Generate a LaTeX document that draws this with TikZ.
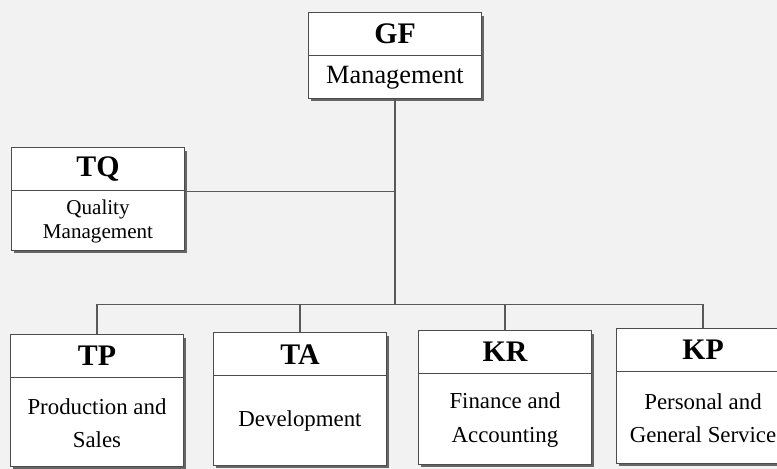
\documentclass[tikz,border=0pt]{standalone}
\usepackage{fontspec}
\setmainfont{Liberation Serif}
\usetikzlibrary{calc,shadows}
\tikzset{
  unit/.style={draw=black!70, line width=0.8pt, fill=white, minimum width=3.46cm, anchor=north,
    drop shadow={shadow xshift=1.6pt, shadow yshift=-1.6pt, fill=black!60, opacity=1}},
  hdr/.style={draw=black!70, line width=0.8pt, minimum width=3.46cm, minimum height=0.86cm,
    anchor=north, inner sep=0pt, font=\fontsize{17}{20}\selectfont\bfseries},
  desc/.style={align=center, inner sep=0pt, font=\fontsize{13}{19}\selectfont},
  wire/.style={draw=black!65, line width=0.8pt},
}
\begin{document}
\begin{tikzpicture}[x=0.02cm, y=-0.02cm]
  \fill[black!5] (0,0) rectangle (777,469);
  \useasboundingbox (0,0) rectangle (777,469);
  \clip (0,0) rectangle (777,469);
  % top
  \node[unit, minimum height=1.72cm] (gf) at (395,12) {};
  \node[hdr] (gf-hd) at (gf.north) {GF};
  \node[desc, font=\fontsize{15}{18}\selectfont] (gf-txt) at ($(gf-hd.south)!0.5!(gf.south)$) {Management};
  % staff
  \node[unit, minimum height=2.06cm] (tq) at (98,147) {};
  \node[hdr] (tq-hd) at (tq.north) {TQ};
  \node[desc, font=\fontsize{12}{14}\selectfont] (tq-txt) at ($(tq-hd.south)!0.5!(tq.south)$) {Quality\\Management};
  % departments
  \node[unit, minimum height=2.64cm] (tp) at (97,334) {};
  \node[hdr] (tp-hd) at (tp.north) {TP};
  \node[desc] (tp-txt) at ($(tp-hd.south)!0.5!(tp.south)$) {Production and\\Sales};
  \node[unit, minimum height=2.66cm] (ta) at (300,332) {};
  \node[hdr] (ta-hd) at (ta.north) {TA};
  \node[desc] (ta-txt) at ($(ta-hd.south)!0.5!(ta.south)$) {Development};
  \node[unit, minimum height=2.68cm] (kr) at (505,330) {};
  \node[hdr] (kr-hd) at (kr.north) {KR};
  \node[desc] (kr-txt) at ($(kr-hd.south)!0.5!(kr.south)$) {Finance and\\Accounting};
  \node[unit, minimum height=2.7cm] (kp) at (703,328) {};
  \node[hdr] (kp-hd) at (kp.north) {KP};
  \node[desc] (kp-txt) at ($(kp-hd.south)!0.5!(kp.south)$) {Personal and\\General Service};
  % lines
  \coordinate (bus) at ($(gf.south)+(0,205)$);
  \draw[wire] (gf.south) -- (bus);
  \draw[wire] (tq-hd.south east) -- (tq-hd.south east -| gf.south);
  \foreach \u in {tp,ta,kr,kp}
    \draw[wire] (\u.north) |- (bus);
\end{tikzpicture}
\end{document}
